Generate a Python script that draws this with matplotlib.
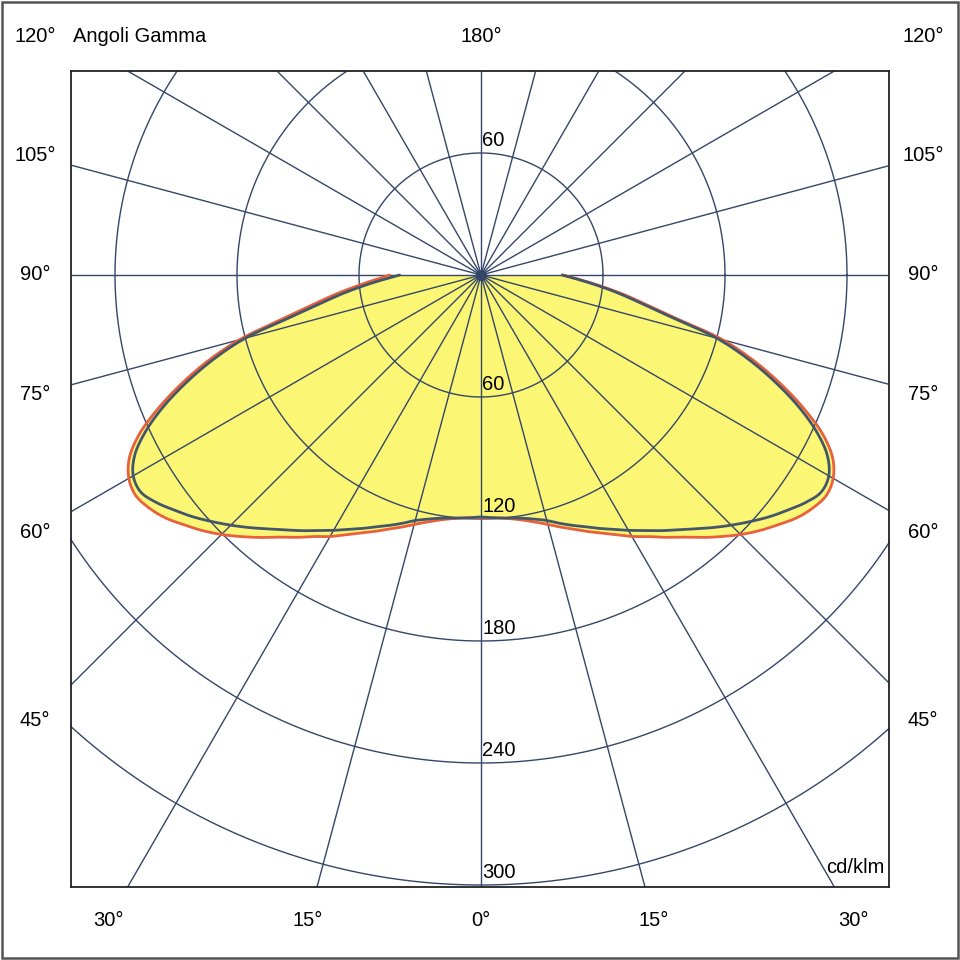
import numpy as np
import matplotlib.pyplot as plt
from matplotlib.patches import Rectangle

plt.rcParams['font.family'] = ['Liberation Sans', 'DejaVu Sans']

# gamma angles (deg from nadir) and intensities in cd/klm
gamma = [0, 2.5, 5, 7.5, 10, 12.5, 15, 17.5, 20, 22.5, 25, 27.5, 30, 32.5,
         35, 37.5, 40, 42.5, 45, 47.5, 50, 52.5, 55, 57.5, 60, 62.5, 65,
         67.5, 70, 72.5, 75, 77.5, 80, 82.5, 85, 87.5, 90]

# C90-C270 plane (symmetric)
c90_270 = [119, 119.5, 120, 120.5, 121.5, 123, 125, 128, 131, 134, 137.5,
           141, 145, 149, 153.5, 158, 163, 168.5, 174, 179.5, 185, 190, 195,
           198.5, 197.5, 192, 182, 169, 154, 138, 120, 96, 80, 68, 57, 47.5,
           40]

# C0-C180 plane, left and right half
c180 = [119.5, 119.5, 120, 121, 122.5, 124.5, 127, 130, 133, 136.5, 140,
        144, 148.5, 152.5, 157.5, 162.5, 168.5, 174.5, 180.5, 186, 191, 196,
        199.5, 201.5, 200, 195, 185.5, 172, 157, 141, 123, 100, 84, 72, 61,
        52, 45]
c0 = [119.5, 119.5, 120, 121, 122.5, 124.5, 127, 130, 133, 136.5, 140,
      144, 148.5, 152.5, 157.5, 162.5, 168.5, 174.5, 180.5, 186, 191, 196,
      199.5, 201.5, 200, 195, 185.5, 172, 157, 141, 123, 98, 82, 69.5, 58,
      48, 40]

ring_values = [60, 120, 180, 240, 300]
side_angles = [45, 60, 75, 90, 105, 120]
bottom_angles = [0, 15, 30]

grid_col = '#34466a'
red = '#e8603c'
blue = '#44566a'
yellow = '#fbf774'


def smooth(x, y, n=12):
    # centripetal catmull-rom through the points, just for drawing
    p = np.column_stack([x, y])
    p = np.vstack([p[0] * 2 - p[1], p, p[-1] * 2 - p[-2]])
    out = [p[1]]
    for i in range(1, len(p) - 2):
        p0, p1, p2, p3 = p[i - 1], p[i], p[i + 1], p[i + 2]
        t0 = 0.0
        t1 = t0 + max(np.linalg.norm(p1 - p0), 1e-6) ** 0.5
        t2 = t1 + max(np.linalg.norm(p2 - p1), 1e-6) ** 0.5
        t3 = t2 + max(np.linalg.norm(p3 - p2), 1e-6) ** 0.5
        for t in np.linspace(t1, t2, n + 1)[1:]:
            a1 = (t1 - t) / (t1 - t0) * p0 + (t - t0) / (t1 - t0) * p1
            a2 = (t2 - t) / (t2 - t1) * p1 + (t - t1) / (t2 - t1) * p2
            a3 = (t3 - t) / (t3 - t2) * p2 + (t - t2) / (t3 - t2) * p3
            b1 = (t2 - t) / (t2 - t0) * a1 + (t - t0) / (t2 - t0) * a2
            b2 = (t3 - t) / (t3 - t1) * a2 + (t - t1) / (t3 - t1) * a3
            out.append((t2 - t) / (t2 - t1) * b1 + (t - t1) / (t2 - t1) * b2)
    out = np.array(out)
    return out[:, 0], out[:, 1]


def curve_xy(left, right):
    g = np.radians(gamma)
    xl = -np.array(left) * np.sin(g)
    yl = -np.array(left) * np.cos(g)
    xr = np.array(right) * np.sin(g)
    yr = -np.array(right) * np.cos(g)
    x = np.concatenate([xl[::-1], xr[1:]])
    y = np.concatenate([yl[::-1], yr[1:]])
    return smooth(x, y)


fig = plt.figure(figsize=(9.6, 9.6), dpi=100)
k = 122 / 60  # pixels per cd/klm
ax = fig.add_axes([71 / 960, 73 / 960, 818 / 960, 816 / 960])
ax.set_xlim(-410 / k, 408 / k)
ax.set_ylim(-612 / k, 204 / k)
ax.set_xticks([])
ax.set_yticks([])
for s in ax.spines.values():
    s.set_color('#222222')
    s.set_linewidth(1.3)

# yellow fill
xr_, yr_ = curve_xy(c180, c0)
xb_, yb_ = curve_xy(c90_270, c90_270)
ax.fill(np.append(xr_, 0), np.append(yr_, 0), color=yellow, lw=0, zorder=1)
ax.fill(np.append(xb_, 0), np.append(yb_, 0), color=yellow, lw=0, zorder=1)

# polar grid
t = np.linspace(0, 2 * np.pi, 721)
for r in ring_values:
    ax.plot(r * np.cos(t), r * np.sin(t), color=grid_col, lw=1.0, zorder=2)
for a in range(0, 360, 15):
    ar = np.radians(a)
    ax.plot([0, 600 * np.cos(ar)], [0, 600 * np.sin(ar)],
            color=grid_col, lw=1.0, zorder=2)
ax.plot(0, 0, 'o', ms=7, color=grid_col, zorder=5)

# curves
ax.plot(xr_, yr_, color=red, lw=2.0, zorder=3, solid_capstyle='round')
ax.plot(xb_, yb_, color=blue, lw=2.0, zorder=4, solid_capstyle='round')

# ring labels
fs = 14.5
ax.text(0.5, ring_values[0] + 1.5, str(ring_values[0]), ha='left',
        va='bottom', fontsize=fs, zorder=6)
for r in ring_values:
    ax.text(0.5, -r + 1.5, str(r), ha='left', va='bottom', fontsize=fs,
            zorder=6)
ax.text(0.995, 0.012, 'cd/klm', transform=ax.transAxes, ha='right',
        va='bottom', fontsize=fs)

# angle labels
lx = 446 / k
top_y = 238 / k
for a in side_angles:
    if a == 90:
        y = 0
    else:
        y = -lx / np.tan(np.radians(a))
    y = min(y, top_y)
    ax.text(-lx, y, f'{a}°', ha='center', va='center', fontsize=fs,
            clip_on=False)
    ax.text(lx - 2, y, f'{a}°', ha='center', va='center', fontsize=fs,
            clip_on=False)
by = -645 / k
for a in bottom_angles:
    x = -by * np.tan(np.radians(a))
    ax.text(x, by, f'{a}°', ha='center', va='center', fontsize=fs,
            clip_on=False)
    if a:
        ax.text(-x, by, f'{a}°', ha='center', va='center', fontsize=fs,
                clip_on=False)
ax.text(0, top_y, '180°', ha='center', va='center', fontsize=fs,
        clip_on=False)
ax.text(-408 / k, top_y, 'Angoli Gamma', ha='left', va='center',
        fontsize=fs, clip_on=False)

# outer frame
fig.patches.append(Rectangle((2 / 960, 2 / 960), 956 / 960, 956 / 960,
                             transform=fig.transFigure, fill=False,
                             edgecolor='#555555', lw=1.8))

fig.savefig('out.png', dpi=100)
